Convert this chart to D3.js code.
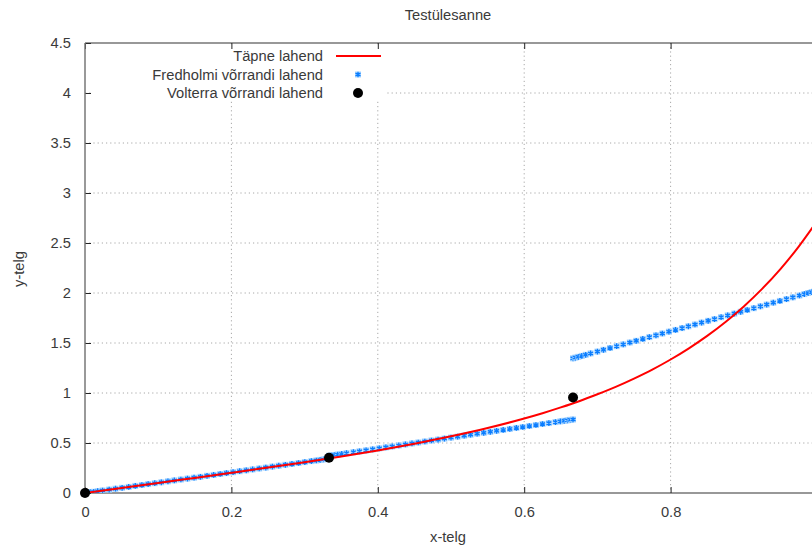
<!DOCTYPE html>
<html><head><meta charset="utf-8">
<script src="https://cdn.jsdelivr.net/npm/d3@7"></script>
<style>
html,body{margin:0;padding:0;background:#fff;overflow:hidden}
text{font-family:"Liberation Sans",Arial,sans-serif;}
</style></head>
<body><svg id="c" width="812" height="546"></svg>
<script>
const titleText = "Testülesanne";
const xLabel = "x-telg";
const yLabel = "y-telg";
const xTicks = [0, 0.2, 0.4, 0.6, 0.8];
const xTickLabels = ["0", "0.2", "0.4", "0.6", "0.8"];
const yTicks = [0, 0.5, 1, 1.5, 2, 2.5, 3, 3.5, 4, 4.5];
const yTickLabels = ["0", "0.5", "1", "1.5", "2", "2.5", "3", "3.5", "4", "4.5"];
const seriesNames = ["Täpne lahend", "Fredholmi võrrandi lahend", "Volterra võrrandi lahend"];

// exact solution
const exactX = [0,0.05,0.1,0.15,0.2,0.25,0.3,0.35,0.4,0.45,0.5,0.55,0.6,0.625,0.65,0.675,0.7,0.725,0.75,0.775,0.8,0.825,0.85,0.875,0.9,0.925,0.95,0.975,1.0];
const exactY = [0,0.050,0.100,0.151,0.202,0.254,0.308,0.365,0.426,0.493,0.567,0.650,0.745,0.798,0.856,0.918,0.987,1.061,1.144,1.234,1.335,1.447,1.571,1.710,1.866,2.041,2.239,2.464,2.718];

// Fredholm solution, three pieces
const fredX1 = [0,0.0033,0.0073,0.012,0.0173,0.024,0.033,0.0417,0.0507,0.0597,0.0687,0.0777,0.0863,0.0953,0.1043,0.1133,0.122,0.131,0.14,0.149,0.1577,0.1667,0.1757,0.1847,0.1933,0.2023,0.2113,0.2203,0.229,0.238,0.247,0.256,0.2647,0.2737,0.2827,0.2917,0.3003,0.3093,0.316,0.3213,0.326,0.33,0.3333];
const fredY1 = [0,0.003,0.008,0.012,0.018,0.025,0.034,0.043,0.052,0.061,0.071,0.080,0.089,0.098,0.107,0.117,0.126,0.135,0.144,0.153,0.162,0.172,0.181,0.190,0.199,0.208,0.218,0.227,0.236,0.245,0.254,0.264,0.273,0.282,0.291,0.300,0.309,0.319,0.325,0.331,0.336,0.340,0.343];
const fredX2 = [0.3333,0.3367,0.3407,0.3453,0.3507,0.3573,0.3667,0.375,0.384,0.393,0.402,0.411,0.4197,0.4287,0.4377,0.4467,0.4553,0.4643,0.4733,0.4823,0.491,0.5,0.509,0.518,0.5267,0.5357,0.5447,0.5537,0.5623,0.5713,0.5803,0.5893,0.598,0.607,0.616,0.625,0.6337,0.6427,0.6493,0.6547,0.6593,0.6633,0.6667];
const fredY2 = [0.372,0.376,0.380,0.385,0.391,0.398,0.408,0.417,0.427,0.437,0.447,0.457,0.466,0.476,0.486,0.496,0.505,0.515,0.525,0.534,0.544,0.554,0.563,0.573,0.583,0.593,0.602,0.612,0.622,0.631,0.641,0.651,0.660,0.670,0.680,0.690,0.699,0.709,0.716,0.722,0.727,0.732,0.735];
const fredX3 = [0.6667,0.67,0.674,0.6787,0.684,0.6907,0.7,0.7083,0.7173,0.7263,0.7353,0.7443,0.753,0.762,0.771,0.78,0.7887,0.7977,0.8067,0.8157,0.8243,0.8333,0.8423,0.8513,0.86,0.869,0.878,0.887,0.8957,0.9047,0.9137,0.9227,0.9313,0.9403,0.9493,0.9583,0.967,0.976,0.9827,0.988,0.9927,0.9967,1.0];
const fredY3 = [1.347,1.354,1.362,1.371,1.382,1.396,1.414,1.432,1.450,1.468,1.486,1.505,1.522,1.541,1.559,1.577,1.595,1.613,1.631,1.649,1.667,1.685,1.704,1.722,1.739,1.758,1.776,1.794,1.812,1.830,1.848,1.867,1.884,1.903,1.921,1.939,1.957,1.975,1.989,2.000,2.009,2.017,2.024];

// Volterra solution
const voltX = [0, 0.3333, 0.6667];
const voltY = [0, 0.353, 0.955];

const svg = d3.select("#c");
const L = 85, R = 817, T = 43, B = 493;
const x = d3.scaleLinear().domain([0, 1]).range([L, R]);
const y = d3.scaleLinear().domain([0, 4.5]).range([B, T]);
const txtCol = "#3a3a3a";
const FS = "14.7px";

// grid
const g = svg.append("g");
g.selectAll(".gx").data(xTicks.filter(v => v > 0 && v < 1)).enter().append("line")
  .attr("x1", d => x(d)).attr("x2", d => x(d)).attr("y1", T).attr("y2", B)
  .attr("stroke", "#a8a8a8").attr("stroke-width", 1).attr("stroke-dasharray", "1.2,3");
g.selectAll(".gy").data(yTicks.filter(v => v > 0 && v < 4.5)).enter().append("line")
  .attr("x1", L).attr("x2", R).attr("y1", d => y(d)).attr("y2", d => y(d))
  .attr("stroke", "#a8a8a8").attr("stroke-width", 1).attr("stroke-dasharray", "1.2,3");

// legend background (opaque key)
svg.append("rect").attr("x", 93).attr("y", 45).attr("width", 293).attr("height", 56).attr("fill", "#fff");

// axes
const ax = svg.append("g").attr("transform", `translate(0,${B})`)
  .call(d3.axisBottom(x).tickValues(xTicks).tickFormat((d, i) => xTickLabels[i]).tickSize(-6).tickPadding(14));
const axT = svg.append("g").attr("transform", `translate(0,${T})`)
  .call(d3.axisTop(x).tickValues(xTicks).tickFormat("").tickSize(-6));
const ay = svg.append("g").attr("transform", `translate(${L},0)`)
  .call(d3.axisLeft(y).tickValues(yTicks).tickFormat((d, i) => yTickLabels[i]).tickSize(-6).tickPadding(14));
[ax, axT, ay].forEach(a => {
  a.select(".domain").remove();
  a.selectAll("line").attr("stroke", "#222");
  a.selectAll("text").attr("fill", txtCol).style("font-size", FS).style("font-family", '"Liberation Sans",Arial,sans-serif');
});

// frame
svg.append("line").attr("x1", L).attr("x2", R).attr("y1", B).attr("y2", B).attr("stroke", "#333").attr("stroke-width", 1.2);
svg.append("line").attr("x1", L).attr("x2", R).attr("y1", T).attr("y2", T).attr("stroke", "#333").attr("stroke-width", 1.2);
svg.append("line").attr("x1", L).attr("x2", L).attr("y1", T).attr("y2", B).attr("stroke", "#777").attr("stroke-width", 1.5);

// clip
svg.append("clipPath").attr("id", "pc").append("rect").attr("x", L).attr("y", T).attr("width", R - L).attr("height", B - T);
const plot = svg.append("g").attr("clip-path", "url(#pc)");

// Fredholm markers
const fredPts = [];
[[fredX1, fredY1], [fredX2, fredY2], [fredX3, fredY3]].forEach(([xs, ys]) => xs.forEach((v, i) => fredPts.push([v, ys[i]])));
const star = d3.symbol().type(d3.symbolAsterisk).size(22);
function fredMarker(sel) {
  sel.append("rect").attr("x", -3).attr("y", -3).attr("width", 6).attr("height", 6).attr("fill", "#a6d4ff");
  sel.append("path").attr("d", star()).attr("stroke", "#0a7dff").attr("stroke-width", 1.3).attr("fill", "none");
}
const fm = plot.selectAll(".fm").data(fredPts).enter().append("g")
  .attr("transform", d => `translate(${x(d[0])},${y(d[1])})`);
fredMarker(fm);

// exact line
const line = d3.line().x((d, i) => x(exactX[i])).y(d => y(d)).curve(d3.curveMonotoneX);
plot.append("path").attr("d", line(exactY)).attr("fill", "none").attr("stroke", "#ff0000").attr("stroke-width", 2);

// Volterra dots
plot.selectAll(".vd").data(voltX).enter().append("circle")
  .attr("cx", d => x(d)).attr("cy", (d, i) => y(voltY[i])).attr("r", 5).attr("fill", "#000");
svg.append("circle").attr("cx", x(voltX[0])).attr("cy", y(voltY[0])).attr("r", 5).attr("fill", "#000");

// legend
const lgY = [56, 74.5, 93];
seriesNames.forEach((n, i) => {
  svg.append("text").attr("x", 323).attr("y", lgY[i] + 5).attr("text-anchor", "end")
    .attr("fill", txtCol).style("font-size", FS).text(n);
});
svg.append("line").attr("x1", 336).attr("x2", 381).attr("y1", lgY[0]).attr("y2", lgY[0]).attr("stroke", "#ff0000").attr("stroke-width", 2);
fredMarker(svg.append("g").attr("transform", `translate(358,${lgY[1]})`));
svg.append("circle").attr("cx", 358).attr("cy", lgY[2]).attr("r", 5).attr("fill", "#000");

// titles
svg.append("text").attr("x", 448).attr("y", 20).attr("text-anchor", "middle").attr("fill", txtCol).style("font-size", FS).text(titleText);
svg.append("text").attr("x", 448).attr("y", 542).attr("text-anchor", "middle").attr("fill", txtCol).style("font-size", FS).text(xLabel);
svg.append("text").attr("transform", "translate(24,269) rotate(-90)").attr("text-anchor", "middle").attr("fill", txtCol).style("font-size", FS).text(yLabel);
</script></body></html>
